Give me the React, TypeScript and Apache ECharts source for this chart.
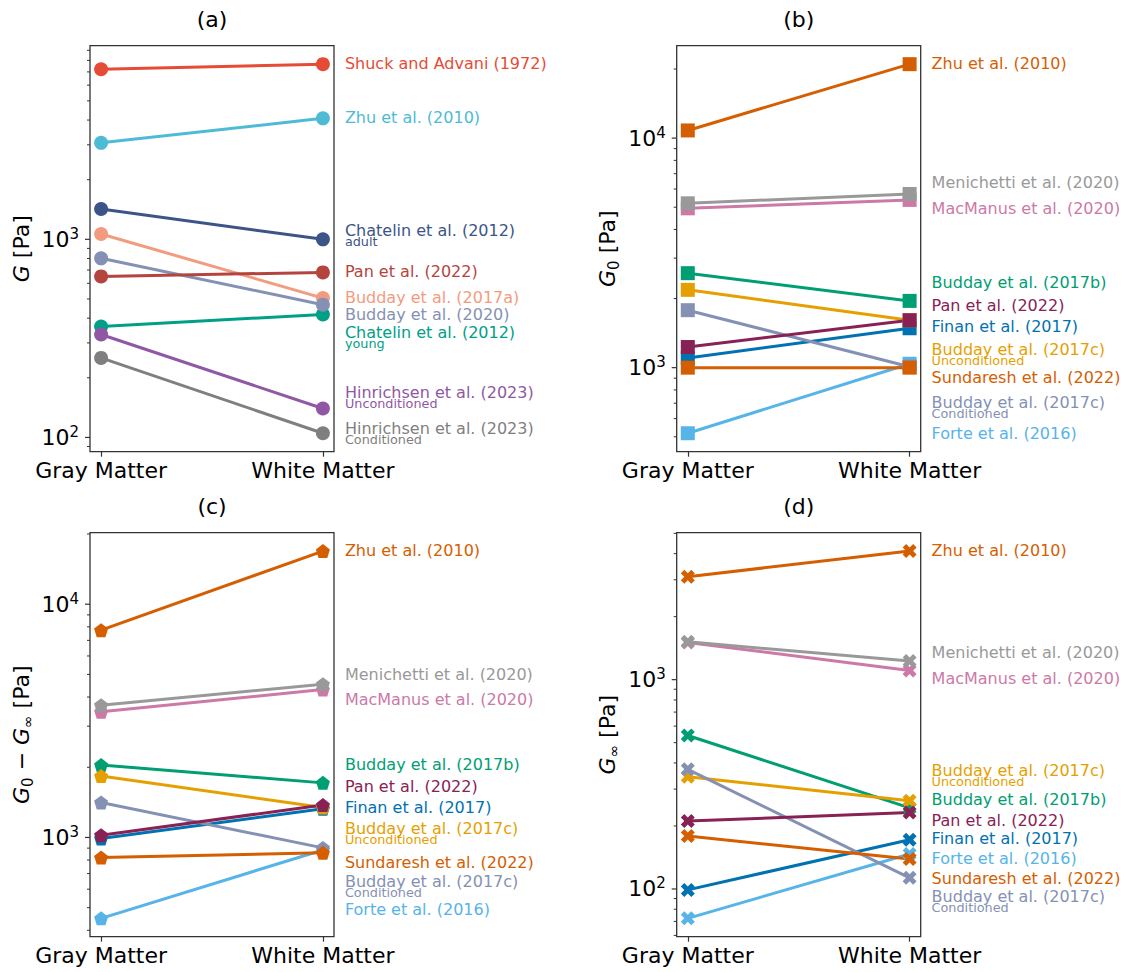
import React, { useEffect, useRef } from 'react';
import * as echarts from 'echarts';

// ---------------- data ----------------
const categories = ['Gray Matter', 'White Matter'];
const panelTitles = ['(a)', '(b)', '(c)', '(d)'];

// Panel (a): G [Pa]  -> [gray, white]
const aHinrichsenCond = [252, 105];
const aChatelinYoung = [363, 418];
const aHinrichsenUncond = [331, 140];
const aBudday2017a = [1064, 505];
const aBudday2020 = [802, 468];
const aPan2022 = [650, 681];
const aChatelinAdult = [1423, 1000];
const aZhu2010 = [3070, 4080];
const aShuck1972 = [7215, 7660];

// Panel (b): G0 [Pa]
const bForte2016 = [518, 1040];
const bFinan2017 = [1101, 1485];
const bBudday2017b = [2580, 1954];
const bBudday2017cUncond = [2183, 1610];
const bBudday2017cCond = [1780, 1010];
const bPan2022 = [1230, 1610];
const bMacManus2020 = [4945, 5380];
const bMenichetti2020 = [5200, 5710];
const bSundaresh2022 = [1000, 1000];
const bZhu2010 = [10800, 21000];

// Panel (c): G0 - Ginf [Pa]
const cForte2016 = [450, 884];
const cFinan2017 = [990, 1327];
const cBudday2017b = [2043, 1714];
const cBudday2017cUncond = [1833, 1345];
const cBudday2017cCond = [1412, 902];
const cPan2022 = [1023, 1377];
const cMacManus2020 = [3455, 4305];
const cMenichetti2020 = [3690, 4540];
const cSundaresh2022 = [820, 859];
const cZhu2010 = [7740, 16900];

// Panel (d): Ginf [Pa]
const dForte2016 = [72.4, 147];
const dFinan2017 = [99, 172];
const dBudday2017b = [541, 244];
const dBudday2017cUncond = [344, 264];
const dBudday2017cCond = [373, 113];
const dPan2022 = [211, 232];
const dMacManus2020 = [1506, 1107];
const dMenichetti2020 = [1517, 1227];
const dSundaresh2022 = [179, 139];
const dZhu2010 = [3105, 4115];

// ---------------- styles ----------------
const FONT = 'DejaVu Sans';
const COL = {
  shuck: '#E64B35',
  zhuA: '#4DBBD5',
  chatAdult: '#3C5488',
  budA: '#F39B7F',
  bud2020: '#8491B4',
  panA: '#B5443F',
  chatYoung: '#00A087',
  hinU: '#9058A4',
  hinC: '#7F7F7F',
  zhu: '#D55E00',
  men: '#999999',
  mac: '#CC79A7',
  bud17b: '#009E73',
  budU: '#E69F00',
  budC: '#8491B4',
  pan: '#882255',
  finan: '#0072B2',
  sund: '#D55E00',
  forte: '#56B4E9',
};

const SYM_PENTAGON = 'path://M0,-1L0.951,-0.309L0.588,0.809L-0.588,0.809L-0.951,-0.309Z';
const SYM_X = 'path://M1,-2L2,-1L1,0L2,1L1,2L0,1L-1,2L-2,1L-1,0L-2,-1L-1,-2L0,-1Z';

type Spec = { name: string; sub?: string; data: number[]; color: string; dy: number };

const panels: { symbol: string; specs: Spec[] }[] = [
  {
    symbol: 'circle',
    specs: [
      { name: 'Hinrichsen et al. (2023)', sub: 'Conditioned', data: aHinrichsenCond, color: COL.hinC, dy: -4.4 },
      { name: 'Chatelin et al. (2012)', sub: 'young', data: aChatelinYoung, color: COL.chatYoung, dy: 17.7 },
      { name: 'Hinrichsen et al. (2023)', sub: 'Unconditioned', data: aHinrichsenUncond, color: COL.hinU, dy: -16.3 },
      { name: 'Budday et al. (2017a)', data: aBudday2017a, color: COL.budA, dy: -1 },
      { name: 'Budday et al. (2020)', data: aBudday2020, color: COL.bud2020, dy: 9.7 },
      { name: 'Pan et al. (2022)', data: aPan2022, color: COL.panA, dy: -1.3 },
      { name: 'Chatelin et al. (2012)', sub: 'adult', data: aChatelinAdult, color: COL.chatAdult, dy: -9 },
      { name: 'Zhu et al. (2010)', data: aZhu2010, color: COL.zhuA, dy: -0.6 },
      { name: 'Shuck and Advani (1972)', data: aShuck1972, color: COL.shuck, dy: -1 },
    ],
  },
  {
    symbol: 'rect',
    specs: [
      { name: 'Forte et al. (2016)', data: bForte2016, color: COL.forte, dy: 70 },
      { name: 'Finan et al. (2017)', data: bFinan2017, color: COL.finan, dy: -1.7 },
      { name: 'Budday et al. (2017b)', data: bBudday2017b, color: COL.bud17b, dy: -18.4 },
      { name: 'Budday et al. (2017c)', sub: 'Unconditioned', data: bBudday2017cUncond, color: COL.budU, dy: 29 },
      { name: 'Budday et al. (2017c)', sub: 'Conditioned', data: bBudday2017cCond, color: COL.budC, dy: 35.7 },
      { name: 'Pan et al. (2022)', data: bPan2022, color: COL.pan, dy: -14.7 },
      { name: 'MacManus et al. (2020)', data: bMacManus2020, color: COL.mac, dy: 8.3 },
      { name: 'Menichetti et al. (2020)', data: bMenichetti2020, color: COL.men, dy: -11.3 },
      { name: 'Sundaresh et al. (2022)', data: bSundaresh2022, color: COL.sund, dy: 10 },
      { name: 'Zhu et al. (2010)', data: bZhu2010, color: COL.zhu, dy: -1 },
    ],
  },
  {
    symbol: SYM_PENTAGON,
    specs: [
      { name: 'Forte et al. (2016)', data: cForte2016, color: COL.forte, dy: 60 },
      { name: 'Finan et al. (2017)', data: cFinan2017, color: COL.finan, dy: -1.4 },
      { name: 'Budday et al. (2017b)', data: cBudday2017b, color: COL.bud17b, dy: -18.7 },
      { name: 'Budday et al. (2017c)', sub: 'Unconditioned', data: cBudday2017cUncond, color: COL.budU, dy: 21 },
      { name: 'Budday et al. (2017c)', sub: 'Conditioned', data: cBudday2017cCond, color: COL.budC, dy: 34 },
      { name: 'Pan et al. (2022)', data: cPan2022, color: COL.pan, dy: -19 },
      { name: 'MacManus et al. (2020)', data: cMacManus2020, color: COL.mac, dy: 10 },
      { name: 'Menichetti et al. (2020)', data: cMenichetti2020, color: COL.men, dy: -10 },
      { name: 'Sundaresh et al. (2022)', data: cSundaresh2022, color: COL.sund, dy: 10 },
      { name: 'Zhu et al. (2010)', data: cZhu2010, color: COL.zhu, dy: -0.7 },
    ],
  },
  {
    symbol: SYM_X,
    specs: [
      { name: 'Forte et al. (2016)', data: dForte2016, color: COL.forte, dy: 5 },
      { name: 'Finan et al. (2017)', data: dFinan2017, color: COL.finan, dy: -0.7 },
      { name: 'Budday et al. (2017b)', data: dBudday2017b, color: COL.bud17b, dy: -8 },
      { name: 'Budday et al. (2017c)', sub: 'Unconditioned', data: dBudday2017cUncond, color: COL.budU, dy: -30 },
      { name: 'Budday et al. (2017c)', sub: 'Conditioned', data: dBudday2017cCond, color: COL.budC, dy: 18.3 },
      { name: 'Pan et al. (2022)', data: dPan2022, color: COL.pan, dy: 8.4 },
      { name: 'MacManus et al. (2020)', data: dMacManus2020, color: COL.mac, dy: 7.6 },
      { name: 'Menichetti et al. (2020)', data: dMenichetti2020, color: COL.men, dy: -9 },
      { name: 'Sundaresh et al. (2022)', data: dSundaresh2022, color: COL.sund, dy: 19.3 },
      { name: 'Zhu et al. (2010)', data: dZhu2010, color: COL.zhu, dy: -1 },
    ],
  },
];

const yNames = [
  '{i|G}{n| [Pa]}',
  '{i|G}{sub|0}{n| [Pa]}',
  '{i|G}{sub|0}{n| − }{i|G}{sub|∞}{n| [Pa]}',
  '{i|G}{sub|∞}{n| [Pa]}',
];

const grids = [
  { left: 90, top: 45.7, width: 244, height: 406 },
  { left: 676.7, top: 45.7, width: 244, height: 406 },
  { left: 90, top: 532.7, width: 244, height: 404 },
  { left: 676.7, top: 532.7, width: 244, height: 404 },
];
const titleY = [19, 19, 506, 506];

function logRange(specs: Spec[]): [number, number] {
  const all = specs.flatMap((s) => s.data).map((v) => Math.log10(v));
  const lo = Math.min(...all);
  const hi = Math.max(...all);
  const r = hi - lo;
  return [Math.pow(10, lo - 0.05 * r), Math.pow(10, hi + 0.05 * r)];
}

function tickLists(min: number, max: number) {
  const major: number[] = [];
  const all: number[][] = [];
  for (let e = Math.floor(Math.log10(min)); e <= Math.ceil(Math.log10(max)); e++) {
    for (let k = 1; k <= 9; k++) {
      const v = k * Math.pow(10, e);
      if (v < min || v > max) continue;
      if (k === 1) major.push(v);
      all.push([-0.05, v, k === 1 ? 1 : 0]);
    }
  }
  return { major, all };
}

const SPINE = '#333333';
const TICK_FS = 22;

function buildOption() {
  const xAxis: any[] = [];
  const yAxis: any[] = [];
  const series: any[] = [];
  const grid: any[] = [];
  const graphic: any[] = [];

  panels.forEach((p, i) => {
    const g = grids[i];
    grid.push({ ...g, show: true, borderColor: SPINE, borderWidth: 1.3, backgroundColor: 'transparent' });
    const [min, max] = logRange(p.specs);
    const { major, all } = tickLists(min, max);

    xAxis.push({
      type: 'value',
      gridIndex: i,
      min: -0.05,
      max: 1.05,
      axisLine: { show: false },
      splitLine: { show: false },
      axisTick: { show: true, customValues: [0, 1], length: 5, lineStyle: { color: SPINE, width: 1.2 } },
      axisLabel: {
        customValues: [0, 1],
        formatter: (v: number) => categories[Math.round(v)],
        fontSize: TICK_FS,
        color: '#000',
        fontFamily: FONT,
        margin: 8,
      },
    });

    yAxis.push({
      type: 'log',
      logBase: 10,
      gridIndex: i,
      position: 'left',
      min,
      max,
      axisLine: { show: false },
      splitLine: { show: false },
      axisTick: { show: false },
      axisLabel: {
        customValues: major,
        formatter: (v: number) => '{b|10}{sup|' + Math.round(Math.log10(v)) + '}',
        color: '#000',
        fontFamily: FONT,
        margin: 11,
        rich: {
          b: { fontSize: TICK_FS, lineHeight: 26, fontFamily: FONT, color: '#000' },
          sup: { fontSize: 15, lineHeight: 15, verticalAlign: 'top', fontFamily: FONT, color: '#000' },
        },
      },
      name: yNames[i],
      nameLocation: 'middle',
      nameRotate: 90,
      nameGap: 55,
      nameTextStyle: {
        fontSize: TICK_FS,
        color: '#000',
        fontFamily: FONT,
        rich: {
          i: { fontStyle: 'italic', fontSize: TICK_FS, lineHeight: 28, fontFamily: FONT, color: '#000' },
          n: { fontSize: TICK_FS, lineHeight: 28, fontFamily: FONT, color: '#000' },
          sub: { fontSize: 15, lineHeight: 15, verticalAlign: 'bottom', fontFamily: FONT, color: '#000' },
        },
      },
    });

    // y ticks (major + minor) drawn through the log axis
    series.push({
      type: 'custom',
      xAxisIndex: i,
      yAxisIndex: i,
      silent: true,
      clip: false,
      encode: { x: 0, y: 1 },
      data: all,
      renderItem: (_params: any, api: any) => {
        const pt = api.coord([api.value(0), api.value(1)]);
        const isMajor = api.value(2) === 1;
        const len = isMajor ? 5 : 3;
        return {
          type: 'line',
          shape: { x1: pt[0] - len, y1: pt[1], x2: pt[0], y2: pt[1] },
          style: { stroke: SPINE, lineWidth: isMajor ? 1.2 : 1 },
        };
      },
    });

    p.specs.forEach((s) => {
      const twoLine = !!s.sub;
      const mLH = 16;
      const sLH = 6;
      const shift = twoLine ? (mLH + sLH) / 2 - mLH / 2 : 0;
      series.push({
        type: 'line',
        name: s.name + (s.sub ? ' ' + s.sub : ''),
        xAxisIndex: i,
        yAxisIndex: i,
        symbol: p.symbol,
        symbolSize: 14,
        clip: false,
        silent: true,
        emphasis: { disabled: true },
        lineStyle: { color: s.color, width: 3 },
        itemStyle: { color: s.color },
        data: [
          { value: [0, s.data[0]] },
          {
            value: [1, s.data[1]],
            label: {
              show: true,
              position: 'right',
              distance: 15,
              offset: [0, s.dy + shift],
              formatter: twoLine ? `{m|${s.name}}\n{s|${s.sub}}` : `{m|${s.name}}`,
              rich: {
                m: { fontSize: 16, lineHeight: mLH, color: s.color, fontFamily: FONT },
                s: { fontSize: 12.8, lineHeight: sLH, color: s.color, fontFamily: FONT },
              },
            },
          },
        ],
      });
    });

    graphic.push({
      type: 'text',
      x: g.left + g.width / 2,
      y: titleY[i],
      style: { text: panelTitles[i], fontSize: TICK_FS, fontFamily: FONT, fill: '#000', align: 'center', verticalAlign: 'middle' },
    });
  });

  return {
    animation: false,
    backgroundColor: '#ffffff',
    textStyle: { fontFamily: FONT },
    grid,
    xAxis,
    yAxis,
    series,
    graphic,
  };
}

export default function App() {
  const ref = useRef<HTMLDivElement>(null);
  useEffect(() => {
    if (!ref.current) return;
    const chart = echarts.init(ref.current, undefined, { renderer: 'svg' });
    chart.setOption(buildOption() as any);
    return () => chart.dispose();
  }, []);
  return <div ref={ref} style={{ position: 'absolute', left: 0, top: 0, width: 1127, height: 972 }} />;
}
